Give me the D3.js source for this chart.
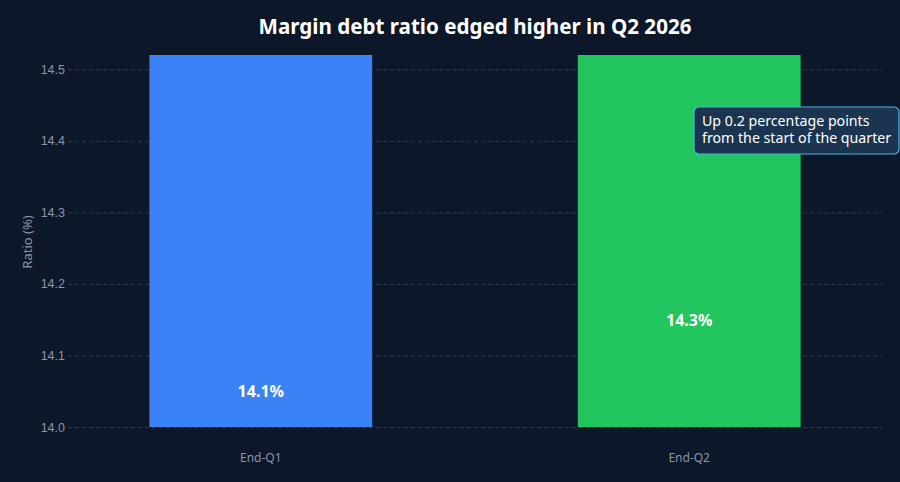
<!DOCTYPE html>
<html>
<head>
<meta charset="utf-8">
<script src="https://cdn.jsdelivr.net/npm/d3@7"></script>
<style>
  body { margin: 0; background: #0c1729; }
  svg { display: block; font-family: "Noto Sans", "Open Sans", sans-serif; }
</style>
</head>
<body>
<div id="chart"></div>
<script>
// data
var categories = ["End-Q1", "End-Q2"];
var ratios = [14.1, 14.3];
var barColors = ["#3b82f6", "#22c55e"];
var yTicks = [14.0, 14.1, 14.2, 14.3, 14.4, 14.5];
var yDomain = [14.0, 14.52];
var note = ["Up 0.2 percentage points", "from the start of the quarter"];

var svgWidth = 900, svgHeight = 482;
var margin = { top: 55, right: 18, bottom: 55, left: 68 };
var width = svgWidth - margin.left - margin.right;
var height = svgHeight - margin.top - margin.bottom;

var svg = d3.select("#chart").append("svg")
  .attr("width", svgWidth)
  .attr("height", svgHeight);

svg.append("rect").attr("width", svgWidth).attr("height", svgHeight).attr("fill", "#0c1729");

svg.append("text")
  .attr("x", 475).attr("y", 34)
  .attr("text-anchor", "middle")
  .attr("fill", "#ffffff")
  .attr("font-size", "20.6px")
  .attr("font-weight", "bold")
  .text("Margin debt ratio edged higher in Q2 2026");

var chartGroup = svg.append("g")
  .attr("transform", `translate(${margin.left}, ${margin.top})`);

var xScale = d3.scaleBand()
  .domain(categories)
  .range([0, width])
  .paddingInner(0.48)
  .paddingOuter(0.19);

var yScale = d3.scaleLinear()
  .domain(yDomain)
  .range([height, 0]);

// grid
var yAxis = d3.axisLeft(yScale)
  .tickValues(yTicks)
  .tickFormat(d3.format(".1f"))
  .tickSize(-width)
  .tickPadding(3);

var yG = chartGroup.append("g").call(yAxis);
yG.select(".domain").remove();
yG.selectAll(".tick line")
  .attr("stroke", "#2b3a50")
  .attr("stroke-dasharray", "4,3");
yG.selectAll(".tick text")
  .attr("fill", "#8b95a7")
  .attr("font-size", "12.5px");

// bars (the view is zoomed in, so they run off the top of the plot)
chartGroup.selectAll(".bar")
  .data(ratios)
  .enter()
  .append("rect")
  .attr("class", "bar")
  .attr("x", (d, i) => xScale(categories[i]))
  .attr("width", xScale.bandwidth())
  .attr("y", yScale(yDomain[1]))
  .attr("height", yScale(yDomain[0]) - yScale(yDomain[1]))
  .attr("fill", (d, i) => barColors[i]);

chartGroup.selectAll(".barLabel")
  .data(ratios)
  .enter()
  .append("text")
  .attr("class", "barLabel")
  .attr("x", (d, i) => xScale(categories[i]) + xScale.bandwidth() / 2)
  .attr("y", d => (yScale(d) + yScale(yDomain[0])) / 2 + 6)
  .attr("text-anchor", "middle")
  .attr("fill", "#ffffff")
  .attr("font-size", "16px")
  .attr("font-weight", "bold")
  .text(d => d.toFixed(1) + "%");

// x labels
chartGroup.selectAll(".xLabel")
  .data(categories)
  .enter()
  .append("text")
  .attr("x", d => xScale(d) + xScale.bandwidth() / 2)
  .attr("y", height + 35)
  .attr("text-anchor", "middle")
  .attr("fill", "#8b95a7")
  .attr("font-size", "12px")
  .text(d => d);

// y title
svg.append("text")
  .attr("transform", "translate(32, 242) rotate(-90)")
  .attr("text-anchor", "middle")
  .attr("fill", "#8b95a7")
  .attr("font-size", "13px")
  .text("Ratio (%)");

// annotation
var note_g = svg.append("g").attr("transform", "translate(694, 107)");
note_g.append("rect")
  .attr("width", 205).attr("height", 47)
  .attr("rx", 5)
  .attr("fill", "#1b3550")
  .attr("stroke", "#4cb4e6")
  .attr("stroke-width", 1.2);
note_g.selectAll("text")
  .data(note)
  .enter()
  .append("text")
  .attr("x", 8)
  .attr("y", (d, i) => 19 + i * 16.5)
  .attr("fill", "#ffffff")
  .attr("font-size", "14.2px")
  .text(d => d);
</script>
</body>
</html>
